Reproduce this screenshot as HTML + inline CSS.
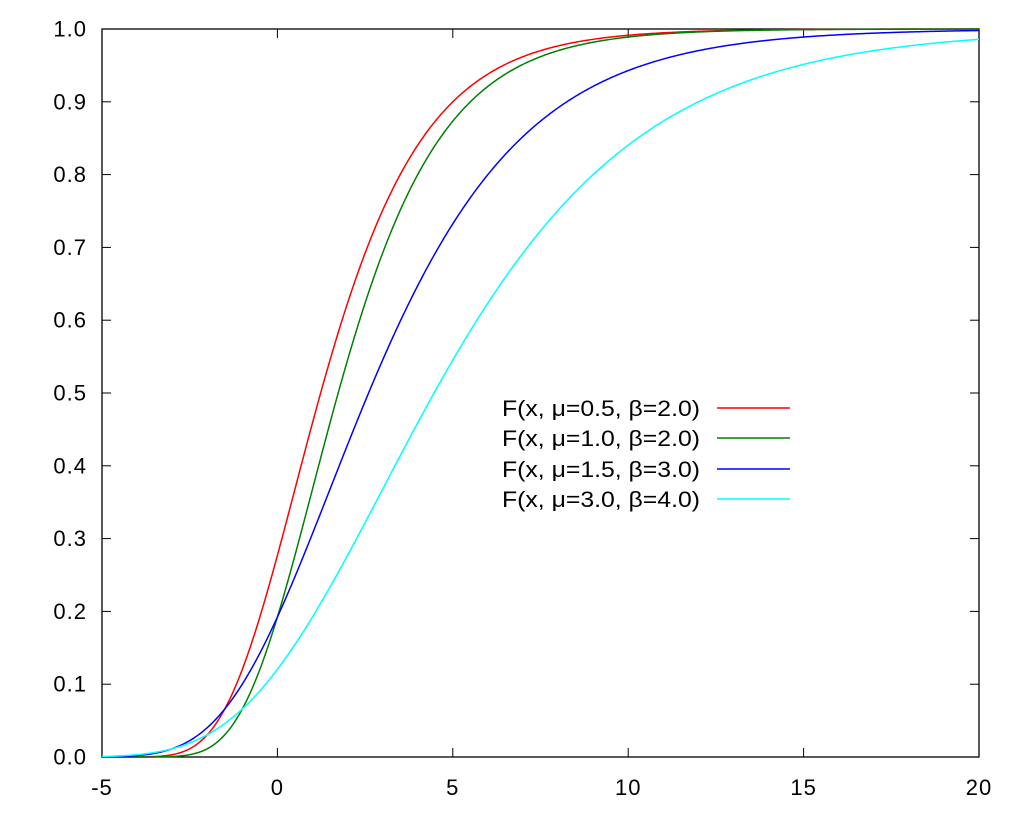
<!DOCTYPE html>
<html><head><meta charset="utf-8"><style>
html,body{margin:0;padding:0;background:#fff;}
svg{display:block;font-family:"Liberation Sans",sans-serif;}
</style></head><body>
<svg id="s" width="1024" height="819" xmlns="http://www.w3.org/2000/svg">
<rect x="0" y="0" width="1024" height="819" fill="#fff"/>
<g id="ax"></g>
<rect x="102" y="29" width="877" height="728" fill="none" stroke="#000" stroke-width="1.3"/>
<g font-size="22" fill="#000">
<text x="502" y="416" textLength="198" lengthAdjust="spacingAndGlyphs">F(x, μ=0.5, β=2.0)</text>
<text x="502" y="446" textLength="198" lengthAdjust="spacingAndGlyphs">F(x, μ=1.0, β=2.0)</text>
<text x="502" y="477" textLength="198" lengthAdjust="spacingAndGlyphs">F(x, μ=1.5, β=3.0)</text>
<text x="502" y="507" textLength="198" lengthAdjust="spacingAndGlyphs">F(x, μ=3.0, β=4.0)</text>
</g>
<line x1="717" y1="408" x2="790" y2="408" stroke="#f00" stroke-width="1.5"/>
<line x1="717" y1="438" x2="790" y2="438" stroke="#008000" stroke-width="1.5"/>
<line x1="717" y1="469" x2="790" y2="469" stroke="#00f" stroke-width="1.5"/>
<line x1="717" y1="499" x2="790" y2="499" stroke="#0ff" stroke-width="1.5"/>
<g id="curves"></g>
</svg>
<script>
function X(v){return 102+(v+5)*877/25;}
function Y(v){return 757-v*728;}
var ax=document.getElementById("ax"),h="";
for(var i=0;i<=10;i++){var y=Y(i/10);
h+='<line x1="102" y1="'+y+'" x2="111" y2="'+y+'" stroke="#000"/>';
h+='<line x1="970" y1="'+y+'" x2="979" y2="'+y+'" stroke="#000"/>';
h+='<text x="87" y="'+(y+7.5)+'" text-anchor="end" font-size="22" letter-spacing="1">'+(i/10).toFixed(1)+'</text>';}
for(var v=-5;v<=20;v+=5){var x=X(v);
h+='<line x1="'+x+'" y1="757" x2="'+x+'" y2="748" stroke="#000"/>';
h+='<line x1="'+x+'" y1="29" x2="'+x+'" y2="38" stroke="#000"/>';
h+='<text x="'+x+'" y="795" text-anchor="middle" font-size="22" letter-spacing="1">'+v+'</text>';}
ax.innerHTML=h;
var P=[[0.5,2,"#f00"],[1,2,"#008000"],[1.5,3,"#00f"],[3,4,"#0ff"]],c="";
P.forEach(function(p){var d="";for(var k=0;k<=500;k++){var x=-5+25*k/500;
var f=Math.exp(-Math.exp(-(x-p[0])/p[1]));d+=(k?"L":"M")+X(x).toFixed(2)+" "+Y(f).toFixed(2);}
c+='<path d="'+d+'" fill="none" stroke="'+p[2]+'" stroke-width="1.5"/>';});
document.getElementById("curves").innerHTML=c;
</script>
</body></html>
